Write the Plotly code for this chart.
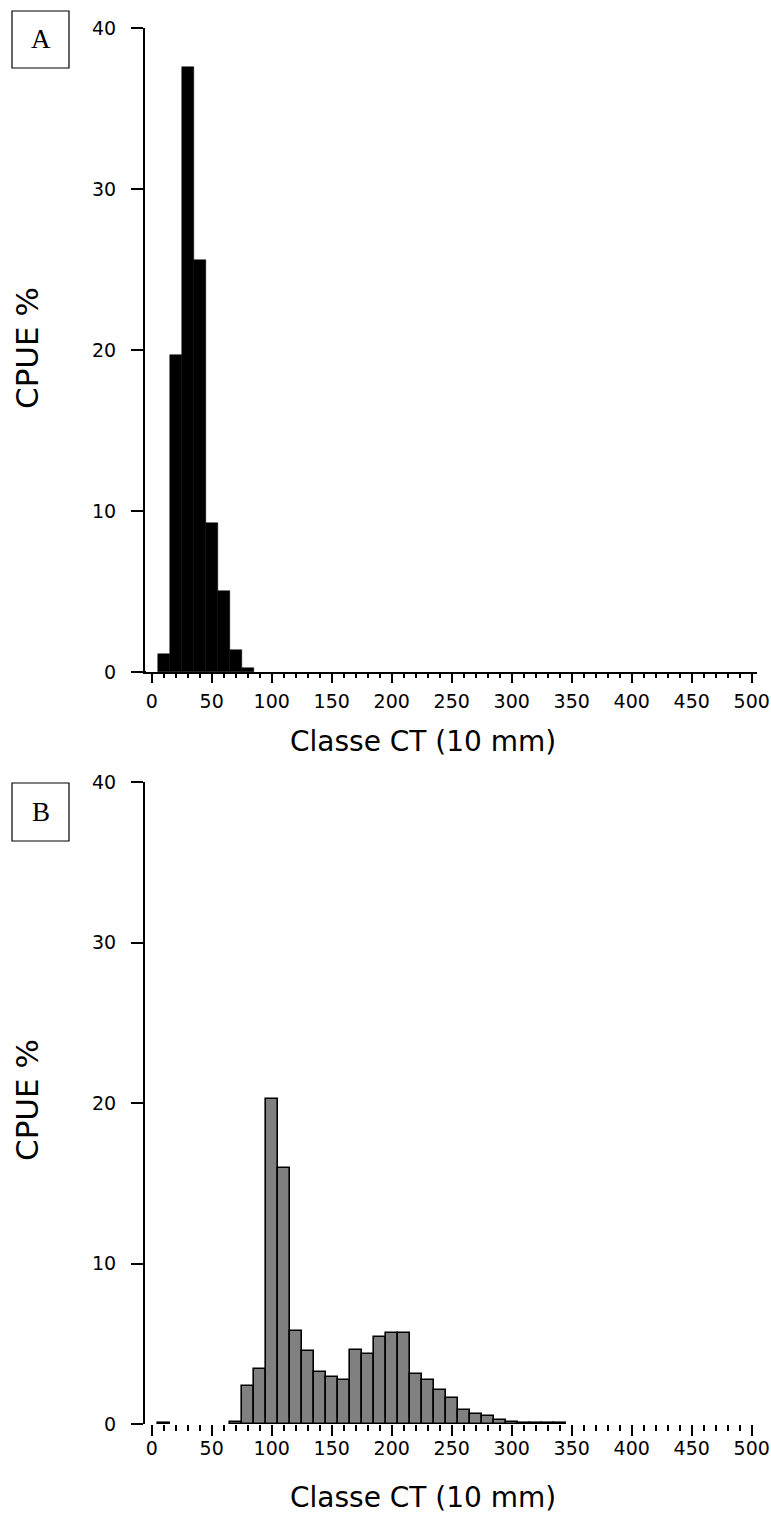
import plotly.graph_objects as go

W, H = 771, 1515

# ---- data ----
classes_a = [10, 20, 30, 40, 50, 60, 70, 80]
cpue_a = [1.14, 19.7, 37.6, 25.6, 9.24, 5.06, 1.39, 0.25]

classes_b = [10, 20, 30, 40, 50, 60, 70, 80, 90, 100, 110, 120, 130, 140, 150,
             160, 170, 180, 190, 200, 210, 220, 230, 240, 250, 260, 270, 280,
             290, 300, 310, 320, 330, 340]
cpue_b = [0.04, 0, 0, 0, 0, 0, 0.1, 2.37, 3.43, 20.25, 15.95, 5.79, 4.54, 3.22,
          2.91, 2.74, 4.63, 4.36, 5.44, 5.66, 5.66, 3.12, 2.72, 2.1, 1.6, 0.85,
          0.6, 0.48, 0.27, 0.12, 0.05, 0.04, 0.04, 0.04]

x_ticks = [0, 50, 100, 150, 200, 250, 300, 350, 400, 450, 500]
y_ticks = [0, 10, 20, 30, 40]
x_title = "Classe CT (10 mm)"
y_title = "CPUE %"
panel_labels = ["A", "B"]

FONT = "DejaVu Sans"


def px(x):
    return x / W


def py(y):
    return 1 - y / H


fig = go.Figure()
fig.add_trace(go.Bar(x=classes_a, y=cpue_a, width=10, xaxis="x", yaxis="y",
                     marker=dict(color="black", line=dict(color="black", width=0.5)),
                     showlegend=False))
fig.add_trace(go.Bar(x=classes_b, y=cpue_b, width=10, xaxis="x2", yaxis="y2",
                     marker=dict(color="#808080",
                                 line=dict(color="black",
                                           width=[0 if v == 0 else 1.6 for v in cpue_b])),
                     showlegend=False))

xr = [-5.58, 504.4]
xdom = [px(145), px(757)]

common_x = dict(range=xr, domain=xdom, tickvals=x_ticks,
                ticktext=[str(v) for v in x_ticks],
                ticks="outside", tickcolor="black", tickwidth=2,
                showgrid=False, zeroline=False, automargin=False,
                tickfont=dict(family=FONT, size=19, color="black"),
                fixedrange=True)
common_y = dict(range=[0, 40], tickvals=y_ticks, ticks="outside", ticklen=12,
                tickwidth=2, tickcolor="black", showline=True, linecolor="black",
                linewidth=2, showgrid=False, zeroline=False, automargin=False,
                tickfont=dict(family=FONT, size=19, color="black"),
                ticklabelstandoff=11, fixedrange=True)

fig.update_layout(
    width=W, height=H,
    margin=dict(l=0, r=0, t=0, b=0, autoexpand=False),
    paper_bgcolor="white", plot_bgcolor="white",
    bargap=0,
    xaxis=dict(**common_x, anchor="y", showline=True, linecolor="black", linewidth=2,
               ticklen=9, ticklabelstandoff=2,
               minor=dict(dtick=10, tick0=0, ticks="outside", ticklen=4,
                          tickwidth=1.5, tickcolor="black", showgrid=False)),
    yaxis=dict(**common_y, anchor="x", domain=[py(672), py(28)]),
    xaxis2=dict(**common_x, anchor="y2", showline=False,
                ticklen=11, ticklabelstandoff=-4,
                minor=dict(dtick=10, tick0=0, ticks="outside", ticklen=6,
                           tickwidth=1.5, tickcolor="black", showgrid=False)),
    yaxis2=dict(**common_y, anchor="x2", domain=[py(1424), py(782)]),
)

# extension of the x axis line of panel A to the left of the y axis
fig.add_shape(type="line", xref="paper", yref="paper",
              x0=px(133), x1=px(146), y0=py(672), y1=py(672),
              line=dict(color="black", width=2))

# axis titles
for yt, ylab in [(741, 348), (1497, 1100)]:
    fig.add_annotation(text=x_title, xref="paper", yref="paper",
                       x=px(423), y=py(yt), showarrow=False,
                       xanchor="center", yanchor="middle",
                       font=dict(family=FONT, size=28, color="black"))
    fig.add_annotation(text=y_title, xref="paper", yref="paper",
                       x=px(27), y=py(ylab), showarrow=False, textangle=-90,
                       xanchor="center", yanchor="middle",
                       font=dict(family=FONT, size=31, color="black"))

# panel label boxes
for lab, (y0, y1) in zip(panel_labels, [(11, 68), (783, 841)]):
    fig.add_shape(type="rect", xref="paper", yref="paper",
                  x0=px(12), x1=px(69), y0=py(y1), y1=py(y0),
                  line=dict(color="black", width=1.2), fillcolor="white")
    fig.add_annotation(text=lab, xref="paper", yref="paper",
                       x=px(40.5), y=py((y0 + y1) / 2), showarrow=False,
                       xanchor="center", yanchor="middle",
                       font=dict(family="Liberation Serif", size=27, color="black"))

fig.write_html("out.html")
